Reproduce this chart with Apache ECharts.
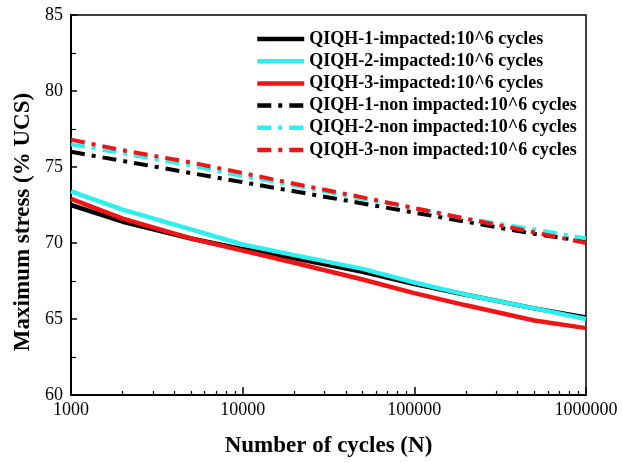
<!DOCTYPE html>
<html>
<head>
<meta charset="utf-8">
<script src="https://cdn.jsdelivr.net/npm/echarts@6/dist/echarts.min.js"></script>
<style>
  html, body { margin: 0; padding: 0; background: #fff; }
  #chart { width: 622px; height: 463px; }
</style>
</head>
<body>
<div id="chart"></div>
<script>
const cycles = [1000, 2000, 5000, 10000, 20000, 50000, 100000, 200000, 500000, 1000000];

// impacted specimens, % UCS
const qiqh1Impacted = [72.5, 71.4, 70.3, 69.6, 69.0, 68.1, 67.3, 66.6, 65.7, 65.1];
const qiqh2Impacted = [73.4, 72.2, 70.9, 69.9, 69.2, 68.3, 67.4, 66.6, 65.7, 65.0];
const qiqh3Impacted = [72.9, 71.6, 70.3, 69.5, 68.7, 67.6, 66.7, 65.9, 64.9, 64.4];

// non impacted specimens, % UCS
const qiqh1Non = [76.0, 75.4, 74.6, 74.0, 73.4, 72.6, 72.0, 71.4, 70.6, 70.1];
const qiqh2Non = [76.5, 75.9, 75.1, 74.4, 73.8, 72.9, 72.3, 71.6, 70.9, 70.3];
const qiqh3Non = [76.8, 76.1, 75.3, 74.6, 73.9, 73.0, 72.3, 71.6, 70.7, 70.0];

// x axis ticks
const majorTicks = [1000, 10000, 100000, 1000000];
const minorMultipliers = [2, 3, 4, 5, 6, 7, 8, 9];
const minorTicks = [];
majorTicks.slice(0, -1).forEach(d => minorMultipliers.forEach(m => minorTicks.push(d * m)));

const serifFont = "'Liberation Serif', 'Times New Roman', serif";
const black = '#000000';
const cyan = '#2cf0f0';
const red = '#f01414';
const dashDot = [14, 7, 4, 7];

const toPairs = (ys) => cycles.map((x, i) => [x, ys[i]]);

function lineSeries(name, ys, color, dashed) {
    return {
        name: name,
        type: 'line',
        xAxisIndex: 0,
        data: toPairs(ys),
        showSymbol: false,
        symbol: 'none',
        smooth: false,
        lineStyle: {
            color: color,
            width: dashed ? 4 : 4.5,
            type: dashed ? dashDot : 'solid'
        },
        itemStyle: { color: color },
        z: dashed ? 3 : 2
    };
}

const names = [
    'QIQH-1-impacted:10^6 cycles',
    'QIQH-2-impacted:10^6 cycles',
    'QIQH-3-impacted:10^6 cycles',
    'QIQH-1-non impacted:10^6 cycles',
    'QIQH-2-non impacted:10^6 cycles',
    'QIQH-3-non impacted:10^6 cycles'
];

const chart = echarts.init(document.getElementById('chart'));

const option = {
    backgroundColor: '#ffffff',
    animation: false,
    textStyle: { fontFamily: serifFont, color: black },
    grid: {
        left: 71,
        right: 36,
        top: 15,
        bottom: 65,
        show: true,
        borderColor: black,
        borderWidth: 1.5,
        containLabel: false
    },
    legend: {
        data: names,
        orient: 'vertical',
        left: 255,
        top: 30,
        padding: 0,
        itemWidth: 47,
        itemHeight: 14,
        itemGap: 4.2,
        // hide the circle marker, keep only the line
        itemStyle: { opacity: 0 },
        lineStyle: { width: 4.5 },
        textStyle: {
            fontFamily: serifFont,
            fontWeight: 'bold',
            fontSize: 18,
            color: black
        }
    },
    xAxis: [
        {
            type: 'log',
            logBase: 10,
            min: 1000,
            max: 1000000,
            position: 'bottom',
            name: 'Number of cycles (N)',
            nameLocation: 'middle',
            nameGap: 40,
            nameTextStyle: {
                fontFamily: serifFont,
                fontWeight: 'bold',
                fontSize: 23,
                color: black
            },
            axisLine: { lineStyle: { color: black, width: 2 } },
            axisTick: {
                inside: true,
                length: 8,
                lineStyle: { color: black, width: 1.5 },
                customValues: majorTicks
            },
            axisLabel: {
                color: black,
                fontFamily: serifFont,
                fontSize: 18,
                margin: 6,
                customValues: majorTicks,
                formatter: (v) => String(Math.round(v))
            },
            splitLine: { show: false }
        },
        {
            type: 'log',
            logBase: 10,
            min: 1000,
            max: 1000000,
            position: 'bottom',
            axisLine: { show: false },
            axisTick: {
                inside: true,
                length: 4,
                lineStyle: { color: black, width: 1.2 },
                customValues: minorTicks
            },
            axisLabel: { show: false },
            splitLine: { show: false }
        }
    ],
    yAxis: {
        type: 'value',
        min: 60,
        max: 85,
        interval: 5,
        name: 'Maximum stress (% UCS)',
        nameLocation: 'middle',
        nameGap: 32,
        nameTextStyle: {
            fontFamily: serifFont,
            fontWeight: 'bold',
            fontSize: 23,
            color: black,
            padding: [0, 34, 0, 0]
        },
        axisLine: { show: true, lineStyle: { color: black, width: 2 } },
        axisTick: {
            show: true,
            inside: true,
            length: 6,
            lineStyle: { color: black, width: 1.5 }
        },
        minorTick: {
            show: true,
            splitNumber: 2,
            length: 5,
            lineStyle: { color: black, width: 1.2 }
        },
        axisLabel: {
            color: black,
            fontFamily: serifFont,
            fontSize: 18,
            margin: 8
        },
        splitLine: { show: false }
    },
    series: [
        lineSeries(names[0], qiqh1Impacted, black, false),
        lineSeries(names[1], qiqh2Impacted, cyan, false),
        lineSeries(names[2], qiqh3Impacted, red, false),
        lineSeries(names[3], qiqh1Non, black, true),
        lineSeries(names[4], qiqh2Non, cyan, true),
        lineSeries(names[5], qiqh3Non, red, true)
    ]
};

chart.setOption(option);
</script>
</body>
</html>
